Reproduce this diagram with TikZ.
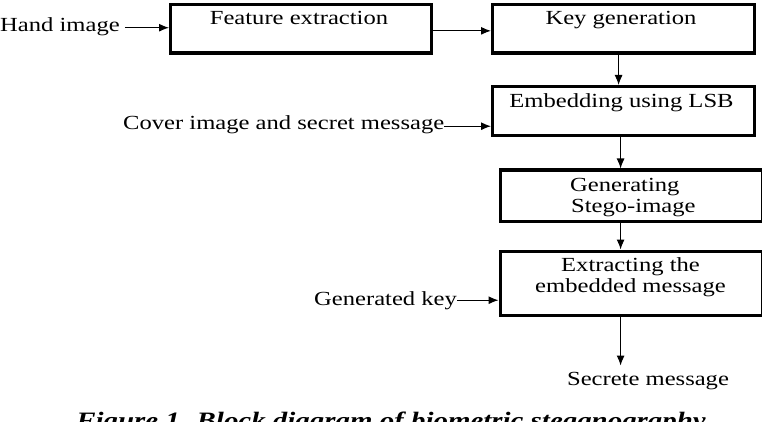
\documentclass[tikz,border=0pt]{standalone}
\usepackage{fontspec}
\setmainfont{Liberation Serif}[FakeStretch=1.23]
\usetikzlibrary{arrows.meta}
\begin{document}
\begin{tikzpicture}[x=1pt,y=-1pt,
  blk/.style={draw,line width=3.2pt,rectangle,inner sep=0pt,anchor=north west},
  lbl/.style={inner sep=0pt,font=\fontsize{20}{24}\selectfont},
  arr/.style={line width=1.1pt,-{Latex[length=10pt,width=8pt]}}]
\clip (0,0) rectangle (762,422);
\useasboundingbox (0,0) rectangle (762,422);
% boxes
\node[blk,minimum width=261pt,minimum height=48.5pt] (fe) at (169,3) {};
\node[blk,minimum width=262pt,minimum height=48.5pt] (kg) at (491,3) {};
\node[blk,minimum width=262pt,minimum height=49pt] (emb) at (491,85) {};
\node[blk,minimum width=262pt,minimum height=51.5pt] (st) at (498.5,168.5) {};
\node[blk,minimum width=262pt,minimum height=64pt] (ex) at (498.5,249.5) {};
% box texts
\node[lbl,anchor=base] (tfe) at (299,25) {Feature extraction};
\node[lbl,anchor=base] (tkg) at (621,25) {Key generation};
\node[lbl,anchor=base] (temb) at (621.5,108) {Embedding using LSB};
\node[lbl,anchor=base west] (tst1) at (570,191) {Generating};
\node[lbl,anchor=base west] (tst2) at (571,212) {Stego-image};
\node[lbl,anchor=base] (tex1) at (630.5,271) {Extracting the};
\node[lbl,anchor=base] (tex2) at (630.5,292) {embedded message};
% outside labels
\node[lbl,anchor=base west,inner xsep=0pt] (hand) at (0,32) {Hand image};
\node[lbl,anchor=base west] (cover) at (123,130) {Cover image and secret message};
\node[lbl,anchor=base west] (gkey) at (314,305) {Generated key};
\node[lbl,anchor=base] (sm) at (648,385) {Secrete message};
\node[inner sep=0pt,anchor=base,font=\fontsize{23.5}{28}\selectfont\bfseries\itshape] (cap) at (391,428) {Figure 1. Block diagram of biometric steganography};
% connectors
\draw[arr] ([xshift=5pt,yshift=-0.5pt]hand.east) -- ([yshift=-0.5pt]hand.east -| fe.west);
\draw[arr] ([yshift=-2pt]fe.east) -- ([yshift=-2pt]kg.west);
\draw[arr] ([xshift=-5pt]kg.south) -- ([xshift=-5pt]kg.south |- emb.north);
\draw[arr] ([yshift=-1pt]cover.east) -- ([yshift=-1pt]cover.east -| emb.west);
\draw[arr] ([xshift=-3pt]emb.south) -- ([xshift=-3pt]emb.south |- st.north);
\draw[arr] ([xshift=-10.5pt]st.south) -- ([xshift=-10.5pt]st.south |- ex.north);
\draw[arr] (gkey.east) -- (gkey.east -| ex.west);
\draw[arr] ([xshift=-10.5pt]ex.south) -- ([xshift=-10.5pt,yshift=6pt]ex.south |- sm.north);
\end{tikzpicture}
\end{document}
